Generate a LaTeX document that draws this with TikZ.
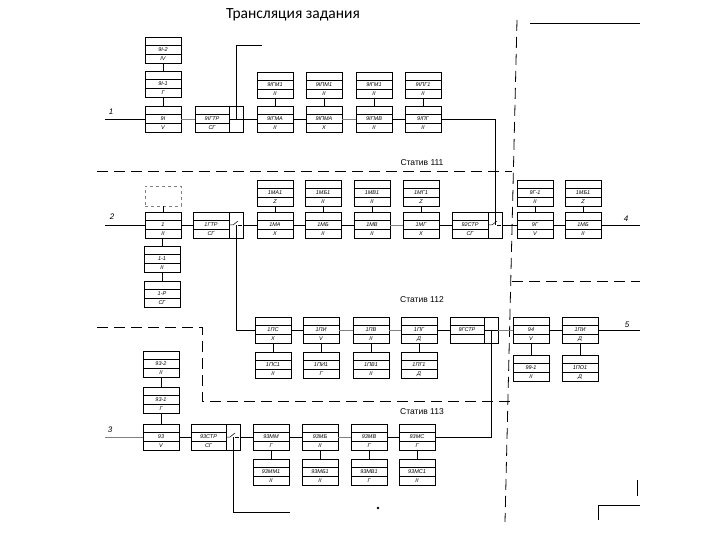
\documentclass[tikz,border=0pt]{standalone}
\usepackage{fontspec}
\setmainfont{Liberation Sans}
\newfontfamily\titlefont{Carlito}
\tikzset{
  blk/.style={draw, line width=0.8pt, minimum width=36pt, minimum height=26pt, inner sep=0pt, outer sep=0pt},
  inl/.style={line width=0.5pt},
  wire/.style={line width=0.8pt},
  lbl/.style={font=\fontsize{5.5}{5.5}\selectfont\itshape, inner sep=0pt},
  bnd/.style={line width=1pt, dash pattern=on 11pt off 6pt},
  num/.style={font=\fontsize{8}{8}\selectfont\itshape, inner sep=0pt},
  stv/.style={font=\fontsize{8.5}{8.5}\selectfont, inner sep=0pt}
}
% box: name, left x, top y, label, numeral
\newcommand\bx[5]{%
  \node[blk] (#1) at (#2+18,#3+13) {};
  \draw[inl] (#2,#3+8) -- (#2+36,#3+8) (#2,#3+17) -- (#2+36,#3+17);
  \node[lbl] (#1-l) at (#2+18,#3+12.7) {#4};
  \node[lbl] (#1-n) at (#2+18,#3+21.7) {#5};
}
% switch box: name, left x, top y, width, label, numeral
\newcommand\swb[6]{%
  \node[blk, minimum width=#4 pt] (#1) at (#2+#4/2,#3+13) {};
  \draw[inl] (#2,#3+8) -- (#2+#4-14,#3+8) (#2,#3+17) -- (#2+#4-14,#3+17);
  \draw[inl] (#2+#4-14,#3) -- (#2+#4-14,#3+26);
  \node[lbl] (#1-l) at (#2+#4/2-7,#3+12.7) {#5};
  \node[lbl] (#1-n) at (#2+#4/2-7,#3+21.7) {#6};
  \coordinate (#1-c) at (#2+#4-7,#3+13);
}
\newcommand\swsym[1]{%
  \draw[inl] ($(#1)+(-6,0)$) -- ($(#1)+(-3,0)$) -- ($(#1)+(2,-4)$);
  \draw[inl] ($(#1)+(2,0)$) -- ($(#1)+(6,0)$);
}
\usetikzlibrary{calc}
\begin{document}
\begin{tikzpicture}[x=1pt,y=-1pt]
\fill[white] (0,0) rectangle (720,540);
\useasboundingbox (0,0) rectangle (720,540);

\node[font=\titlefont\fontsize{15.5}{15.5}\selectfont, inner sep=0pt] (title) at (293,15) {Трансляция задания};

% ---------- boundaries ----------
\draw[bnd] (97,172) -- (512,172);
\node[stv] (st1) at (422,163) {Статив 111};
\draw[bnd] (512,281) -- (640,281);
\node[stv] (st2) at (422,300) {Статив 112};
\draw[bnd] (97,327) -- (202,327) -- (202,401) -- (510,401);
\node[stv] (st3) at (422,412) {Статив 113};
\draw[bnd, line width=0.8pt] (517,20) -- (505,522);
\draw[wire] (530,23) -- (640,23);
\draw[wire] (598,520) -- (598,505) -- (640,505);
\draw[inl] (637,480) -- (637,496);

% ---------- row 1 ----------
\bx{a12}{145}{37}{9I-2}{IV}
\bx{a11}{145}{71}{9I-1}{Г}
\bx{a1}{145}{106}{9I}{V}
\swb{s1}{195}{106}{48}{9IГТР}{СГ}
\draw[inl] ($(s1-c)+(-7,0)$) -- ($(s1-c)+(7,0)$);
\bx{u1}{257}{72}{9IГМ1}{II}
\bx{u2}{306}{72}{9IПМ1}{II}
\bx{u3}{356}{72}{9IГМ1}{II}
\bx{u4}{405}{72}{9IПГ1}{II}
\bx{b1}{257}{106}{9IГМА}{II}
\bx{b2}{306}{106}{9IПМА}{X}
\bx{b3}{356}{106}{9IГМВ}{II}
\bx{b4}{405}{106}{9IПГ}{II}
\coordinate (in1) at (105,119);
\node[num] (n1) at (111,112) {1};
\draw[wire] (in1) -- (a1.west);
\draw[wire] (a12) -- (a11);
\draw[wire] (a11) -- (a1);
\draw[wire, gray] (a1.east) -- (s1.west);
\draw[wire] (s1.east) -- (b1.west);
\draw[wire] (b1) -- (b2);
\draw[wire, gray] (b2) -- (b3);
\draw[wire] (b3) -- (b4);
\foreach \i in {1,2,3,4} {\draw[inl] (u\i) -- (b\i);}
\coordinate (t1) at (236,45);
\coordinate (t2) at (262,45);
\draw[wire] (s1-c) -- (t1) -- (t2);

% ---------- row 2 ----------
\node[draw, dashed, gray, line width=0.5pt, minimum width=36pt, minimum height=20pt] (c0) at (163,196) {};
\bx{c1}{145}{212}{1}{II}
\bx{c11}{144}{246}{1-1}{II}
\bx{c12}{144}{281}{1-Р}{СГ}
\swb{s2}{193}{212}{50}{1ГТР}{СГ}
\swsym{s2-c}
\bx{e1}{257}{180}{1МА1}{Z}
\bx{e2}{305}{180}{1МБ1}{II}
\bx{e3}{354}{180}{1МВ1}{II}
\bx{e4}{403}{180}{1МГ1}{Z}
\bx{d1}{257}{212}{1МА}{X}
\bx{d2}{305}{212}{1МБ}{II}
\bx{d3}{354}{212}{1МВ}{II}
\bx{d4}{403}{212}{1МГ}{X}
\swb{s3}{452}{212}{50}{92СТР}{СГ}
\swsym{s3-c}
\bx{f11}{517}{180}{9Г-1}{II}
\bx{f1}{517}{212}{9Г}{V}
\bx{g11}{565}{180}{1МБ1}{Z}
\bx{g1}{565}{212}{1МБ}{II}
\coordinate (in2) at (105,225);
\node[num] (n2) at (112,217) {2};
\draw[wire] (in2) -- (c1.west);
\draw[wire] (c0) -- (c1);
\draw[wire] (c1) -- (c11);
\draw[wire] (c11) -- (c12);
\draw[wire] (c1.east) -- (s2.west);
\draw[wire] (s2.east) -- (d1.west);
\draw[wire] (d1) -- (d2);
\draw[wire] (d2) -- (d3);
\draw[wire, gray] (d3) -- (d4);
\draw[wire] (d4.east) -- (s3.west);
\foreach \i in {1,2,3,4} {\draw[inl] (e\i) -- (d\i);}
\draw[wire] (s3.east) -- (f1.west);
\draw[wire] (f1) -- (g1);
\draw[inl] (f11) -- (f1);
\draw[inl] (g11) -- (g1);
\coordinate (out4) at (640,225);
\node[num] (n4) at (626,219) {4};
\draw[wire] (g1.east) -- (out4);
\draw[wire] (b4.east) -| (s3-c);

% ---------- row 3 ----------
\bx{h1}{255}{317}{1ПС}{X}
\bx{h2}{303}{317}{1ПИ}{V}
\bx{h3}{353}{317}{1ПВ}{II}
\bx{h4}{401}{317}{1ПГ}{Д}
\bx{i1}{255}{352}{1ПС1}{II}
\bx{i2}{303}{352}{1ПИ1}{Г}
\bx{i3}{353}{352}{1ПВ1}{II}
\bx{i4}{401}{352}{1ПГ1}{Д}
\swb{s4}{450}{317}{48}{9ГСТР}{}
\draw[inl] ($(s4-c)+(-7,0)$) -- ($(s4-c)+(7,0)$);
\bx{j1}{513}{317}{94}{V}
\bx{j11}{513}{355}{99-1}{II}
\bx{k1}{562}{317}{1ПИ}{Д}
\bx{k11}{562}{355}{1ПО1}{Д}
\draw[wire] (s2-c) |- (h1.west);
\draw[wire] (h1) -- (h2);
\draw[wire, gray] (h2) -- (h3);
\draw[wire, gray] (h3) -- (h4);
\draw[wire] (h4.east) -- (s4.west);
\foreach \i in {1,2,3,4} {\draw[inl] (h\i) -- (i\i);}
\draw[wire, gray] (s4.east) -- (j1.west);
\draw[wire] (j1) -- (k1);
\draw[inl] (j1) -- (j11);
\draw[inl] (k1) -- (k11);
\coordinate (out5) at (640,330);
\node[num] (n5) at (627,325) {5};
\draw[wire] (k1.east) -- (out5);

% ---------- row 4 ----------
\bx{l2}{143}{351}{93-2}{II}
\bx{l1}{143}{387}{93-1}{Г}
\bx{l0}{143}{424}{93}{V}
\swb{s5}{191}{424}{49}{93СТР}{СГ}
\swsym{s5-c}
\bx{m1}{253}{424}{93ММ}{Г}
\bx{m2}{302}{424}{93МБ}{II}
\bx{m3}{351}{424}{93МВ}{Г}
\bx{m4}{399}{424}{93МС}{Г}
\bx{q1}{253}{459}{93ММ1}{II}
\bx{q2}{302}{459}{93МБ1}{II}
\bx{q3}{351}{459}{93МВ1}{Г}
\bx{q4}{399}{459}{93МС1}{II}
\coordinate (in3) at (105,437);
\node[num] (n3) at (110,430) {3};
\draw[wire, gray] (in3) -- (l0.west);
\draw[wire] (l2) -- (l1);
\draw[wire] (l1) -- (l0);
\draw[wire] (l0.east) -- (s5.west);
\draw[wire] (s5.east) -- (m1.west);
\draw[wire] (m1) -- (m2);
\draw[wire, gray] (m2) -- (m3);
\draw[wire] (m3) -- (m4);
\foreach \i in {1,2,3,4} {\draw[inl] (m\i) -- (q\i);}
\draw[wire] (m4.east) -| (s4-c);
\coordinate (end5) at (290,512);
\draw[wire] (s5-c) |- (end5);
\fill (378,508) circle (1.4pt);
\end{tikzpicture}
\end{document}
